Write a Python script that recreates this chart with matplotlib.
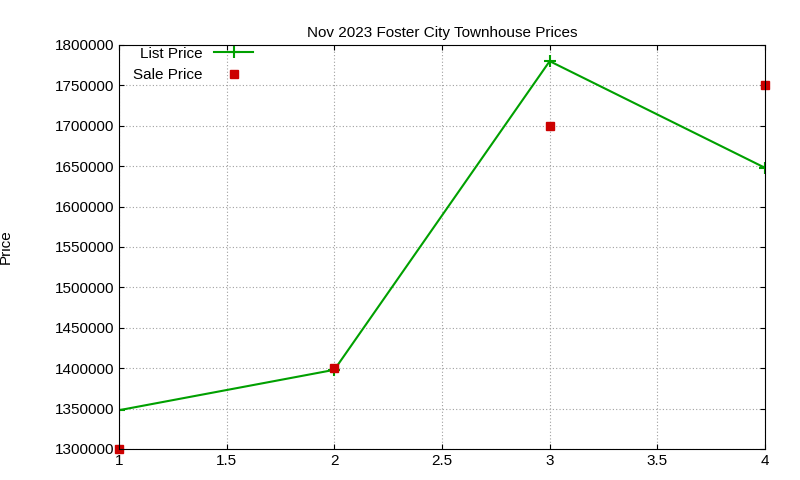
import matplotlib
matplotlib.use("Agg")
import matplotlib.pyplot as plt
from matplotlib.ticker import FuncFormatter

units = [1, 2, 3, 4]
list_price = [1348000, 1398000, 1780000, 1648000]
sale_price = [1300000, 1400000, 1700000, 1750000]

plt.rcParams["font.family"] = ["Liberation Sans", "DejaVu Sans"]

fig = plt.figure(figsize=(8, 4.8), dpi=100)
ax = fig.add_axes([119 / 800, 1 - 449 / 480, (765 - 119) / 800, (449 - 45) / 480])

ax.plot(units, list_price, color="#00a000", lw=1.5, marker="+", ms=8, mew=1.5, label="List Price")
ax.plot(units, sale_price, ls="none", color="#cc0000", marker="s", ms=6, label="Sale Price", clip_on=False)

ax.set_xlim(1, 4)
ax.set_ylim(1300000, 1800000)
ax.set_xticks([1, 1.5, 2, 2.5, 3, 3.5, 4])
ax.set_xticklabels(["1", "1.5", "2", "2.5", "3", "3.5", "4"])
ax.set_yticks(range(1300000, 1800001, 50000))
ax.yaxis.set_major_formatter(FuncFormatter(lambda v, p: f"{int(v)}"))
ax.tick_params(labelsize=11, direction="in", top=True, right=True)
ax.grid(True, color="#a0a0a0", ls=(0, (1, 2)), lw=0.8)
ax.set_title("Nov 2023 Foster City Townhouse Prices", fontsize=11)
ax.set_ylabel("Price", fontsize=11, labelpad=30)
ax.legend(loc="upper left", frameon=False, fontsize=11, markerfirst=False,
          bbox_to_anchor=(0.0, 1.03), handlelength=2.5)

fig.savefig("out.png")
